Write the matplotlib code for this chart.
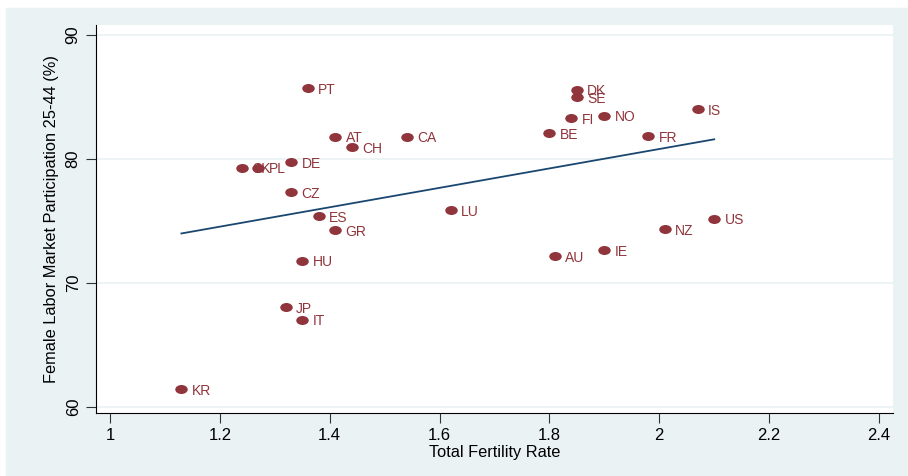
import numpy as np
import matplotlib
matplotlib.use("Agg")
import matplotlib.pyplot as plt
from matplotlib.path import Path
from matplotlib.patches import Rectangle

plt.rcParams["font.family"] = ["Liberation Sans", "DejaVu Sans"]

countries = ["PT", "DK", "SE", "FI", "NO", "IS", "BE", "FR", "AT", "CA",
             "CH", "DE", "SK", "PL", "CZ", "ES", "LU", "GR", "US", "NZ",
             "IE", "AU", "HU", "JP", "IT", "KR"]
tfr = [1.36, 1.85, 1.85, 1.84, 1.90, 2.07, 1.80, 1.98, 1.41, 1.54,
       1.44, 1.33, 1.24, 1.27, 1.33, 1.38, 1.62, 1.41, 2.10, 2.01,
       1.90, 1.81, 1.35, 1.32, 1.35, 1.13]
flp = [85.7, 85.6, 85.0, 83.3, 83.5, 84.0, 82.1, 81.85, 81.8, 81.8,
       80.95, 79.75, 79.3, 79.3, 77.3, 75.4, 75.85, 74.25, 75.2, 74.35,
       72.65, 72.15, 71.8, 68.05, 67.05, 61.45]

xticks = [1, 1.2, 1.4, 1.6, 1.8, 2, 2.2, 2.4]
xtick_labels = ["1", "1.2", "1.4", "1.6", "1.8", "2", "2.2", "2.4"]
yticks = [60, 70, 80, 90]

BG = "#eaf2f3"
MAROON = "#90353b"
NAVY = "#1a476f"

fig = plt.figure(figsize=(9.08, 4.76), dpi=100)
fig.patches.append(Rectangle((6 / 908, 0), 902 / 908, 468 / 476,
                             transform=fig.transFigure, color=BG, zorder=-10))
ax = fig.add_axes([96 / 908, 63 / 476, 797 / 908, 388 / 476])
ax.set_facecolor("white")

x = np.array(tfr)
y = np.array(flp)

# linear fit across the observed range
b, a = np.polyfit(x, y, 1)
xf = np.array([x.min(), x.max()])
ax.plot(xf, a + b * xf, color=NAVY, lw=1.3, zorder=2)

# stretched oval marker like stata's
circ = Path.unit_circle()
oval = Path(circ.vertices * np.array([1.0, 0.72]), circ.codes)
ax.scatter(x, y, marker=oval, s=9.0 ** 2, color=MAROON, lw=0, zorder=3)
for c, xi, yi in zip(countries, x, y):
    ax.annotate(c, (xi, yi), xytext=(7.5, -1.2), textcoords="offset points",
                ha="left", va="center", color=MAROON, fontsize=10, zorder=4)

ax.set_xlim(1 - 14 / 549, 2.4 + 14 / 549)
ax.set_ylim(60 - 6 / 12.4, 90 + 10 / 12.4)
ax.set_xticks(xticks)
ax.set_xticklabels(xtick_labels)
ax.set_yticks(yticks)
ax.set_yticklabels([str(t) for t in yticks], rotation=90, va="center")
ax.grid(axis="y", color=BG, lw=1.2, zorder=0)
ax.set_axisbelow(True)

for s in ["top", "right"]:
    ax.spines[s].set_visible(False)
for s in ["left", "bottom"]:
    ax.spines[s].set_color("#000000")
    ax.spines[s].set_linewidth(0.8)
ax.tick_params(axis="both", length=7, width=0.8, color="#333333",
               labelsize=12, pad=4)

ax.set_xlabel("Total Fertility Rate", fontsize=11.8, labelpad=1)
ax.set_ylabel("Female Labor Market Participation 25-44 (%)", fontsize=11.8,
              labelpad=5)

fig.savefig("out.png", dpi=100)
